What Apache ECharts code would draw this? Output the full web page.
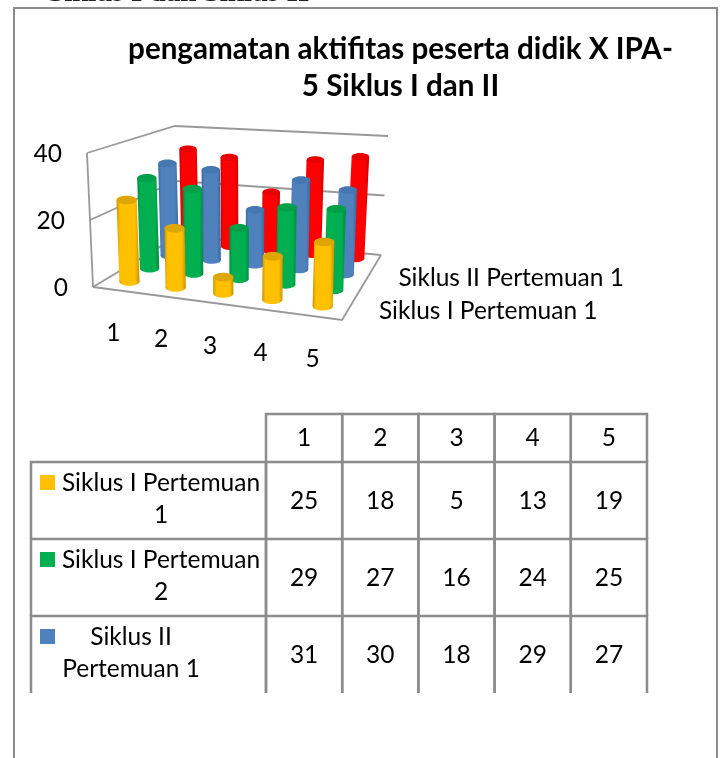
<!DOCTYPE html>
<html>
<head>
<meta charset="utf-8">
<title>pengamatan aktifitas</title>
<script src="https://cdn.jsdelivr.net/npm/echarts@6/dist/echarts.min.js"></script>
<style>
html, body { margin: 0; padding: 0; background: #fff; }
#chart-container { width: 721px; height: 758px; overflow: hidden; }
</style>
</head>
<body>
<div id="chart-container"></div>
<script>
var categories = ['1', '2', '3', '4', '5'];
var seriesNames = ['Siklus I Pertemuan 1', 'Siklus I Pertemuan 2', 'Siklus II Pertemuan 1', 'Siklus II Pertemuan 2'];
var siklus1p1 = [25, 18, 5, 13, 19];
var siklus1p2 = [29, 27, 16, 24, 25];
var siklus2p1 = [31, 30, 18, 29, 27];
var siklus2p2 = [33, 31, 20, 32, 34]; // baris tabel terpotong, dibaca dari tinggi silinder
var yTicks = [0, 20, 40];
var depthLabels = [0, 2]; // label sumbu kedalaman yang tampil
var tableRows = [
  ['Siklus I Pertemuan', '1'],
  ['Siklus I Pertemuan', '2'],
  ['Siklus II', 'Pertemuan 1']
];

var allSeries = [siklus1p1, siklus1p2, siklus2p1, siklus2p2];
var colors = ['#FFC000', '#00B050', '#4F81BD', '#FF0000'];
var darks = ['#C49200', '#008A3E', '#3A6497', '#C80000'];
var tops = ['#DDA600', '#00A049', '#4677B0', '#E80000'];
var gray = '#8C8C8C';
var labelFont = '24.5px Lato';

var dom = document.getElementById('chart-container');
var myChart = echarts.init(dom, null, { renderer: 'canvas' });

// sudut kotak 3D di layar: [depan/belakang][kiri/kanan][0 / 40]
var box = {
  fl0: [93, 287], fl1: [87, 153],
  fr0: [342, 320], fr1: [346, 181],
  bl0: [178, 236], bl1: [175, 126],
  br0: [381, 255], br1: [388, 136]
};

function mix(a, b, t) {
  return [a[0] + (b[0] - a[0]) * t, a[1] + (b[1] - a[1]) * t];
}

// u, w 0..1 dari grid, d = kedalaman 0..1
function project(u, w, d) {
  // kolom makin rapat ke kiri karena perspektif
  u = u - 0.07 * u * (1 - u);
  var f0 = mix(box.fl0, box.fr0, u);
  var f1 = mix(box.fl1, box.fr1, u);
  var b0 = mix(box.bl0, box.br0, u);
  var b1 = mix(box.bl1, box.br1, u);
  return mix(mix(f0, b0, d), mix(f1, b1, d), w);
}

function toBox(params, api, x, v, d) {
  var r = params.coordSys;
  var p = api.coord([x, v]);
  return project((p[0] - r.x) / r.width, (r.y + r.height - p[1]) / r.height, d);
}

function cylinder(idx) {
  var d = (idx + 0.65) / 4;
  return function (params, api) {
    var i = api.value(0);
    var v = api.value(1);
    var bot = toBox(params, api, i, 0, d);
    var top = toBox(params, api, i, v, d);
    var rx = 10.4 - d * 1.8;
    var ry = rx * 0.42;
    var fill = new echarts.graphic.LinearGradient(0, 0, 1, 0, [
      { offset: 0, color: darks[idx] },
      { offset: 0.15, color: colors[idx] },
      { offset: 0.8, color: colors[idx] },
      { offset: 1, color: darks[idx] }
    ]);
    return {
      type: 'group',
      children: [
        { type: 'ellipse', shape: { cx: bot[0], cy: bot[1], rx: rx, ry: ry }, style: { fill: fill } },
        {
          type: 'polygon',
          shape: { points: [[top[0] - rx, top[1]], [top[0] + rx, top[1]], [bot[0] + rx, bot[1]], [bot[0] - rx, bot[1]]] },
          style: { fill: fill }
        },
        { type: 'ellipse', shape: { cx: top[0], cy: top[1], rx: rx, ry: ry }, style: { fill: tops[idx] } }
      ]
    };
  };
}

function renderWalls(params, api) {
  var v = api.value(0);
  var lineStyle = { stroke: '#999', lineWidth: 1.8, fill: null };
  var children = [{
    type: 'polyline',
    shape: { points: [toBox(params, api, -0.5, v, 0), toBox(params, api, -0.5, v, 1), toBox(params, api, 4.5, v, 1)] },
    style: lineStyle
  }];
  if (v === 0) {
    children.push({
      type: 'polyline',
      shape: { points: [toBox(params, api, -0.5, 0, 0), toBox(params, api, 4.5, 0, 0), toBox(params, api, 4.5, 0, 1)] },
      style: lineStyle
    });
    children.push({
      type: 'polyline',
      shape: { points: [toBox(params, api, -0.5, 0, 0), toBox(params, api, -0.5, 40, 0)] },
      style: lineStyle
    });
  }
  var p = toBox(params, api, -0.5, v, 0);
  children.push({
    type: 'text',
    x: p[0] - 25,
    y: p[1] + 1.5,
    style: { text: String(v), textAlign: 'right', textVerticalAlign: 'middle', font: labelFont, fill: '#000' }
  });
  return { type: 'group', children: children };
}

function renderXLabel(params, api) {
  var i = api.value(0);
  var p = toBox(params, api, i, 0, 0);
  return {
    type: 'text',
    x: p[0] - 3,
    y: p[1] + 43,
    style: { text: categories[i], textAlign: 'center', textVerticalAlign: 'middle', font: labelFont, fill: '#000' }
  };
}

function renderDepthLabel(params, api) {
  var s = api.value(0);
  var p = toBox(params, api, 4.5, 0, (s + 0.5) / 4);
  return {
    type: 'text',
    x: p[0] + 32,
    y: p[1] - 1,
    style: { text: seriesNames[s], textAlign: 'left', textVerticalAlign: 'middle', font: labelFont, fill: '#000' }
  };
}

// garis sel tabel: tanpa garis bawah, tabel terpotong
function cellLines(x1, y1, x2, y2) {
  return {
    type: 'polyline',
    shape: { points: [[x1, y2], [x1, y1], [x2, y1], [x2, y2]] },
    style: { stroke: gray, lineWidth: 2.5, fill: null }
  };
}

function renderCell(params, api) {
  var p = api.coord([api.value(0), api.value(1)]);
  var s = api.size([1, 1]);
  return {
    type: 'group',
    children: [
      cellLines(p[0] - s[0] / 2, p[1] - s[1] / 2, p[0] + s[0] / 2, p[1] + s[1] / 2),
      {
        type: 'text',
        x: p[0],
        y: p[1] + 1,
        style: { text: String(api.value(2)), textAlign: 'center', textVerticalAlign: 'middle', font: labelFont, fill: '#000' }
      }
    ]
  };
}

function renderHeader(params, api) {
  var i = api.value(0);
  var p = api.coord([i, 0]);
  var s = api.size([1, 1]);
  var bottom = p[1] - s[1] / 2;
  return {
    type: 'group',
    children: [
      cellLines(p[0] - s[0] / 2, bottom - 48, p[0] + s[0] / 2, bottom),
      {
        type: 'text',
        x: p[0],
        y: bottom - 24,
        style: { text: categories[i], textAlign: 'center', textVerticalAlign: 'middle', font: labelFont, fill: '#000' }
      }
    ]
  };
}

function renderRowLabel(params, api) {
  var row = api.value(0);
  var p = api.coord([0, row]);
  var s = api.size([1, 1]);
  var right = p[0] - s[0] / 2;
  var top = p[1] - s[1] / 2;
  var centerX = row === 2 ? right - 135 : right - 105;
  return {
    type: 'group',
    children: [
      cellLines(right - 235, top, right, top + s[1]),
      { type: 'rect', shape: { x: right - 226, y: top + 13, width: 15, height: 15 }, style: { fill: colors[row] } },
      {
        type: 'text',
        x: centerX,
        y: top + 21,
        style: { text: tableRows[row][0], textAlign: 'center', textVerticalAlign: 'middle', font: labelFont, fill: '#000' }
      },
      {
        type: 'text',
        x: centerX,
        y: top + 53,
        style: { text: tableRows[row][1], textAlign: 'center', textVerticalAlign: 'middle', font: labelFont, fill: '#000' }
      }
    ]
  };
}

var series = [
  {
    type: 'custom', xAxisIndex: 0, yAxisIndex: 0, clip: false, silent: true,
    renderItem: renderWalls,
    data: yTicks.map(function (t) { return [t]; }),
    encode: { x: -1, y: 0 }
  }
];
for (var s = 3; s >= 0; s--) {
  series.push({
    type: 'custom', name: seriesNames[s], xAxisIndex: 0, yAxisIndex: 0, clip: false,
    renderItem: cylinder(s),
    data: allSeries[s].map(function (v, i) { return [i, v]; })
  });
}
series.push({
  type: 'custom', xAxisIndex: 0, yAxisIndex: 0, clip: false, silent: true,
  renderItem: renderXLabel,
  data: categories.map(function (c, i) { return [i, 0]; })
});
series.push({
  type: 'custom', xAxisIndex: 0, yAxisIndex: 0, clip: false, silent: true,
  renderItem: renderDepthLabel,
  data: depthLabels.map(function (n) { return [n]; }),
  encode: { x: -1, y: -1 }
});

// tabel data
var cellData = [];
tableRows.forEach(function (r, row) {
  allSeries[row].forEach(function (v, col) { cellData.push([col, row, v]); });
});
series.push({
  type: 'custom', xAxisIndex: 1, yAxisIndex: 1, clip: false, silent: true,
  renderItem: renderCell,
  data: cellData
});
series.push({
  type: 'custom', xAxisIndex: 1, yAxisIndex: 1, clip: false, silent: true,
  renderItem: renderHeader,
  data: categories.map(function (c, i) { return [i, 0]; })
});
series.push({
  type: 'custom', xAxisIndex: 1, yAxisIndex: 1, clip: false, silent: true,
  renderItem: renderRowLabel,
  data: tableRows.map(function (r, row) { return [row, 0]; }),
  encode: { x: -1, y: -1 }
});

var option = {
  animation: false,
  backgroundColor: '#fff',
  title: {
    text: 'pengamatan aktifitas peserta didik X IPA-\n5 Siklus I dan II',
    left: 395.5,
    top: 26,
    textAlign: 'center',
    textStyle: { fontFamily: 'Lato', fontWeight: 'bold', fontSize: 29.6, lineHeight: 37, color: '#000' }
  },
  grid: [
    { left: 90, top: 120, width: 300, height: 200 },
    { left: 266, top: 462, width: 381, height: 231 }
  ],
  xAxis: [
    { type: 'value', gridIndex: 0, min: -0.5, max: 4.5, show: false },
    { type: 'category', gridIndex: 1, data: categories, show: false }
  ],
  yAxis: [
    { type: 'value', gridIndex: 0, min: 0, max: 40, interval: 20, show: false },
    { type: 'category', gridIndex: 1, data: ['0', '1', '2'], inverse: true, show: false }
  ],
  graphic: [
    {
      type: 'polyline',
      shape: { points: [[14, 758], [14, 8], [717, 8], [717, 758]] },
      style: { stroke: gray, lineWidth: 2, fill: null }
    },
    {
      type: 'text',
      x: 48,
      y: -21,
      style: { text: 'Siklus I dan Siklus II', font: 'bold 29px "Liberation Serif"', fill: '#222' }
    }
  ],
  series: series
};

myChart.setOption(option);
window.addEventListener('resize', myChart.resize);
</script>
</body>
</html>
